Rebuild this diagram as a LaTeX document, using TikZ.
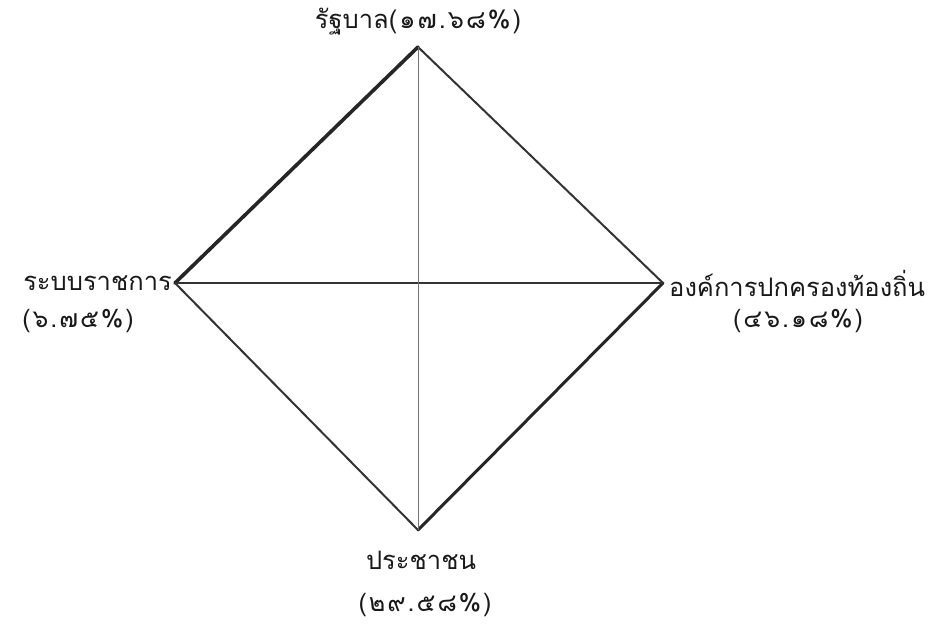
\documentclass[tikz,border=0pt]{standalone}
\usepackage{fontspec}
\newfontfamily\thaifont[Script=Thai]{Loma}
\newfontfamily\thaiwide[Script=Thai,LetterSpace=8]{Loma}
\begin{document}
\begin{tikzpicture}[x=1pt,y=-1pt,
  lbl/.style={font=\thaifont\fontsize{25.5}{29}\selectfont, inner sep=0pt, text=black!90},
  pct/.style={font=\thaiwide\fontsize{25}{29}\selectfont, inner sep=0pt, text=black!90},
  thick edge/.style={line width=3.6pt, draw=black!85},
  thin edge/.style={line width=2pt, draw=black!80},
  cross/.style={line width=2.4pt, draw=black!80},
  vert/.style={line width=1pt, draw=black!55}]
\useasboundingbox[fill=white] (0,0) rectangle (951,625);
\coordinate (T) at (418,47);
\coordinate (L) at (175,283);
\coordinate (R) at (663,283);
\coordinate (B) at (418,530);
\draw[thick edge, line cap=round] (L) -- (T);
\draw[thin edge] (T) -- (R);
\draw[thick edge, line width=3pt, line cap=round] (R) -- (B);
\draw[thin edge] (B) -- (L);
\draw[cross] (L) -- (R);
\draw[vert] (T) -- (B);
\node[lbl] (tl) at (418,22) {รัฐบาล\thaiwide(๑๗.๖๘\%)};
\node[lbl, anchor=east] (ll) at (172,283) {ระบบราชการ};
\node[pct] (lp) at (78,321) {(๖.๗๕\%)};
\node[lbl, anchor=west] (rl) at (669,283) {องค์การปกครองท้องถิ่น};
\node[pct] (rp) at (798,321) {(๔๖.๑๘\%)};
\node[lbl] (bl) at (421,560) {ประชาชน};
\node[pct] (bp) at (425,605) {(๒๙.๕๘\%)};
\end{tikzpicture}
\end{document}
